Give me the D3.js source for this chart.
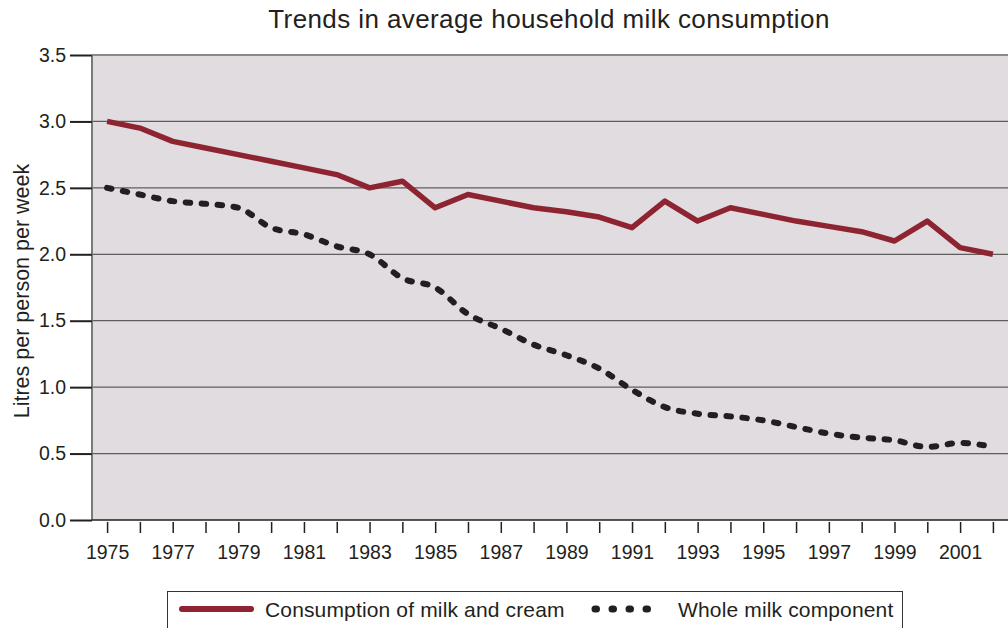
<!DOCTYPE html>
<html>
<head>
<meta charset="utf-8">
<script src="https://cdn.jsdelivr.net/npm/d3@7"></script>
<style>
    body { margin: 0; background: #fff; }
    svg { display: block; font-family: "Liberation Sans", Arial, sans-serif; }
</style>
</head>
<body>
<div id="chart"></div>
<script>
// values
var years = [1975, 1976, 1977, 1978, 1979, 1980, 1981, 1982, 1983, 1984, 1985, 1986, 1987, 1988,
    1989, 1990, 1991, 1992, 1993, 1994, 1995, 1996, 1997, 1998, 1999, 2000, 2001, 2002]
var milkCream = [3.0, 2.95, 2.85, 2.8, 2.75, 2.7, 2.65, 2.6, 2.5, 2.55, 2.35, 2.45, 2.4, 2.35,
    2.32, 2.28, 2.2, 2.4, 2.25, 2.35, 2.3, 2.25, 2.21, 2.17, 2.1, 2.25, 2.05, 2.0]
var wholeMilk = [2.5, 2.45, 2.4, 2.38, 2.35, 2.2, 2.15, 2.06, 2.0, 1.82, 1.75, 1.55, 1.44, 1.32,
    1.24, 1.14, 0.98, 0.85, 0.8, 0.78, 0.75, 0.7, 0.65, 0.62, 0.6, 0.55, 0.58, 0.55]
var yTicks = [0, 0.5, 1.0, 1.5, 2.0, 2.5, 3.0, 3.5]
var seriesNames = ['Consumption of milk and cream', 'Whole milk component']

const width = 1008, height = 628
const plot = { left: 92, right: 1008, top: 55, bottom: 520 }
const ink = '#231f20'
const red = '#8e2432'

var svg = d3.select('#chart').append('svg')
    .attr('width', width)
    .attr('height', height)

var x = d3.scaleLinear().domain([1974.54, 2002.46]).range([plot.left, plot.right])
var y = d3.scaleLinear().domain([0, 3.5]).range([plot.bottom, plot.top])

// plot background
svg.append('rect')
    .attr('x', plot.left).attr('y', plot.top)
    .attr('width', plot.right - plot.left).attr('height', plot.bottom - plot.top)
    .attr('fill', '#e1dce0')

// grid lines
svg.append('g').selectAll('line')
    .data(yTicks.filter(d => d > 0 && d < 3.5))
    .enter().append('line')
    .attr('x1', plot.left).attr('x2', plot.right)
    .attr('y1', d => y(d)).attr('y2', d => y(d))
    .attr('stroke', '#5e5e5e').attr('stroke-width', 1.3)

// top border and left axis line
svg.append('line')
    .attr('x1', plot.left).attr('x2', plot.right)
    .attr('y1', y(3.5)).attr('y2', y(3.5))
    .attr('stroke', '#8a8a8a').attr('stroke-width', 2)
svg.append('line')
    .attr('x1', plot.left).attr('x2', plot.left)
    .attr('y1', plot.top).attr('y2', plot.bottom)
    .attr('stroke', '#7a7a7a').attr('stroke-width', 2)
svg.append('line')
    .attr('x1', plot.left).attr('x2', plot.right)
    .attr('y1', y(0)).attr('y2', y(0))
    .attr('stroke', ink).attr('stroke-width', 1.6)

// y axis
var yAxis = d3.axisLeft(y).tickValues(yTicks).tickFormat(d3.format('.1f')).tickSize(22).tickPadding(4)
var gy = svg.append('g').attr('transform', 'translate(' + plot.left + ',0)').call(yAxis)
gy.select('.domain').remove()
gy.selectAll('.tick line').attr('stroke', ink).attr('stroke-width', 2)
gy.selectAll('.tick text').attr('fill', ink).style('font-size', '19.5px')

// x axis
var xAxis = d3.axisBottom(x).tickValues(years)
    .tickFormat(d => d % 2 === 1 ? String(d) : '')
    .tickSize(11).tickPadding(12)
var gx = svg.append('g').attr('transform', 'translate(0,' + (plot.bottom + 2) + ')').call(xAxis)
gx.select('.domain').remove()
gx.selectAll('.tick line').attr('stroke', ink).attr('stroke-width', 1.5)
gx.selectAll('.tick text').attr('fill', ink).style('font-size', '19.5px')

// lines
var creamLine = d3.line().x((d, i) => x(years[i])).y(d => y(d))
svg.append('path')
    .datum(milkCream)
    .attr('d', creamLine)
    .attr('fill', 'none')
    .attr('stroke', red)
    .attr('stroke-width', 5.5)
    .attr('stroke-linejoin', 'round')

var wholeLine = d3.line().x((d, i) => x(years[i])).y(d => y(d)).curve(d3.curveMonotoneX)
svg.append('path')
    .datum(wholeMilk)
    .attr('d', wholeLine)
    .attr('fill', 'none')
    .attr('stroke', ink)
    .attr('stroke-width', 6)
    .attr('stroke-linecap', 'round')
    .attr('stroke-dasharray', '4.5,11.5')

// title
svg.append('text')
    .attr('x', 549).attr('y', 28)
    .attr('text-anchor', 'middle')
    .attr('fill', ink)
    .style('font-size', '26px')
    .style('letter-spacing', '0.4px')
    .text('Trends in average household milk consumption')

// y axis title
svg.append('text')
    .attr('transform', 'translate(29,' + 291 + ') rotate(-90)')
    .attr('text-anchor', 'middle')
    .attr('fill', ink)
    .style('font-size', '21.5px')
    .text('Litres per person per week')

// legend
var legend = svg.append('g')
legend.append('rect')
    .attr('x', 167.5).attr('y', 591.5)
    .attr('width', 735).attr('height', 50)
    .attr('fill', '#fff').attr('stroke', '#333').attr('stroke-width', 1)
legend.append('line')
    .attr('x1', 182).attr('x2', 251).attr('y1', 609).attr('y2', 609)
    .attr('stroke', red).attr('stroke-width', 6).attr('stroke-linecap', 'round')
legend.append('text')
    .attr('x', 265).attr('y', 617)
    .attr('fill', ink).style('font-size', '21px')
    .style('letter-spacing', '0.15px')
    .text(seriesNames[0])
legend.append('line')
    .attr('x1', 595).attr('x2', 663).attr('y1', 609).attr('y2', 609)
    .attr('stroke', ink).attr('stroke-width', 7).attr('stroke-linecap', 'round')
    .attr('stroke-dasharray', '1.5,15.5')
legend.append('text')
    .attr('x', 678).attr('y', 617)
    .attr('fill', ink).style('font-size', '21px')
    .style('letter-spacing', '0.15px')
    .text(seriesNames[1])
</script>
</body>
</html>
